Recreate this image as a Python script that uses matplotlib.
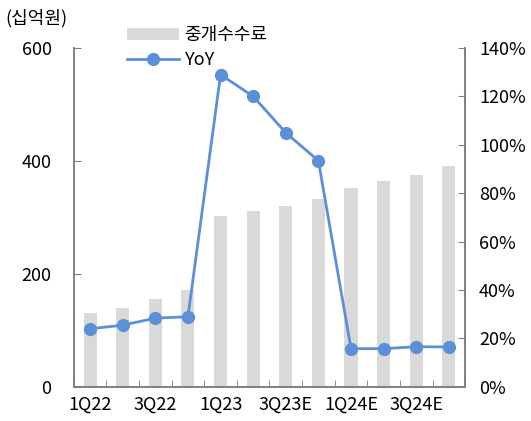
import numpy as np
import matplotlib.pyplot as plt
from matplotlib.ticker import FuncFormatter

plt.rcParams['font.family'] = ['Noto Sans CJK KR', 'DejaVu Sans']

quarters = ['1Q22', '2Q22', '3Q22', '4Q22', '1Q23', '2Q23', '3Q23E', '4Q23E',
            '1Q24E', '2Q24E', '3Q24E', '4Q24E']
fee = [131, 140, 155, 171, 302, 311, 320, 333, 352, 364, 375, 391]
yoy = [24.0, 25.5, 28.4, 29.0, 129.0, 120.0, 105.0, 93.4, 15.8, 15.8, 16.6, 16.5]

bar_color = '#D9D9D9'
line_color = '#5B8FD8'
spine_color = '#808080'

fig = plt.figure(figsize=(5.31, 4.21), dpi=100)
ax = fig.add_axes([0.139, 0.081, 0.737, 0.805])
ax2 = ax.twinx()

x = np.arange(len(quarters))
bars = ax.bar(x, fee, width=0.4, color=bar_color, label='중개수수료', zorder=1)
line, = ax2.plot(x, yoy, color=line_color, lw=2, marker='o', markersize=8.5,
                 label='YoY', zorder=3)

ax.set_xlim(-0.5, len(quarters) - 0.5)
ax.set_ylim(0, 600)
ax.set_yticks([0, 200, 400, 600])
ax2.set_ylim(0, 140)
ax2.set_yticks(np.arange(0, 141, 20))
ax2.yaxis.set_major_formatter(FuncFormatter(lambda v, p: f'{v:.0f}%'))

ax.set_xticks(x[::2])
ax.set_xticklabels(quarters[::2])
ax.set_xticks(np.arange(-0.5, len(quarters)), minor=True)
ax.tick_params(axis='x', which='major', length=0, pad=6, labelsize=13)
ax.tick_params(axis='x', which='minor', direction='in', length=5, color=spine_color)
ax.tick_params(axis='y', direction='in', length=5, color=spine_color, labelsize=13, pad=16)
ax2.tick_params(axis='y', direction='in', length=5, color=spine_color, labelsize=13, pad=10)

for a in (ax, ax2):
    a.spines['top'].set_visible(False)
    for s in ('left', 'right', 'bottom'):
        a.spines[s].set_color(spine_color)
        a.spines[s].set_linewidth(1.2)

fig.text(0.01, 0.957, '(십억원)', fontsize=13, ha='left', va='center')

fig.legend([bars, line], ['중개수수료', 'YoY'], loc='upper left',
           bbox_to_anchor=(0.225, 0.955), frameon=False, fontsize=13,
           handlelength=2.9, handleheight=0.6, labelspacing=0.4, borderaxespad=0,
           handletextpad=0.3)

fig.savefig('out.png', dpi=100)
